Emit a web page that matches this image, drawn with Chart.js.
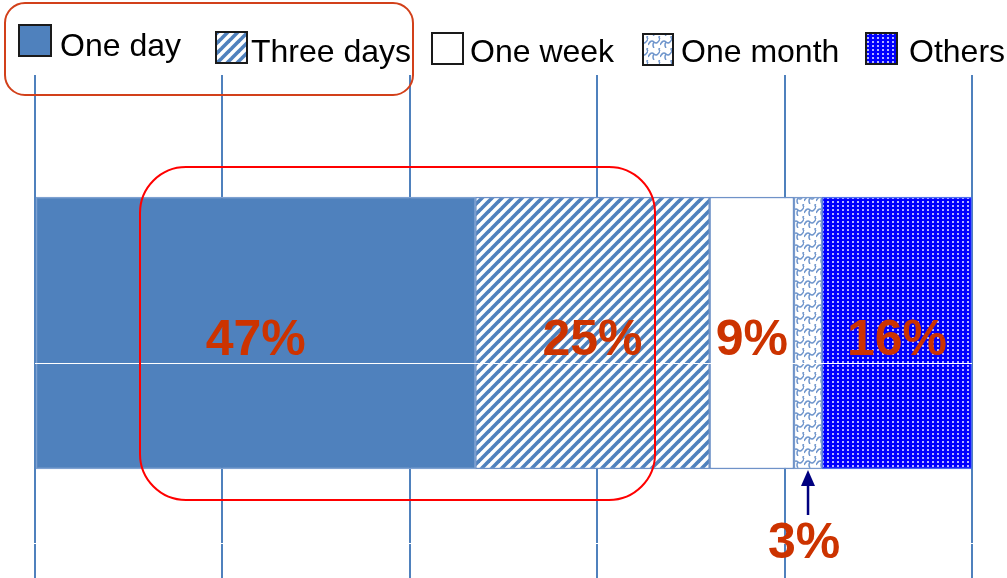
<!DOCTYPE html>
<html>
<head>
<meta charset="utf-8">
<script src="https://cdn.jsdelivr.net/npm/chart.js@4.4.1/dist/chart.umd.min.js"></script>
<style>
    html, body { margin: 0; padding: 0; background: #fff; overflow: hidden; }
    #wrap { position: relative; width: 1007px; height: 591px; }
</style>
</head>
<body>
<div id="wrap"><canvas id="durationChart"></canvas></div>
<script>
// ---- Data ----
const categories = ['Duration'];
const seriesNames = ['One day', 'Three days', 'One week', 'One month', 'Others'];
const seriesValues = [47, 25, 9, 3, 16];
const axisMin = 0;
const axisMax = 100;
const gridStep = 20;

// ---- Fill patterns ----
function makeTile(w, h, draw) {
    const c = document.createElement('canvas');
    c.width = w; c.height = h;
    const g = c.getContext('2d');
    draw(g, w, h);
    return g.createPattern(c, 'repeat');
}

const stripes = makeTile(10, 10, (g, w, h) => {
    g.fillStyle = '#fff';
    g.fillRect(0, 0, w, h);
    g.strokeStyle = '#4f81bd';
    g.lineWidth = 3.6;
    for (let k = -1; k <= 1; k++) {
        g.beginPath();
        g.moveTo(k * w - 2, h + 2);
        g.lineTo(k * w + w + 2, -2);
        g.stroke();
    }
});

const waves = makeTile(12, 12, (g, w, h) => {
    g.fillStyle = '#fff';
    g.fillRect(0, 0, w, h);
    g.strokeStyle = '#7096cc';
    g.lineWidth = 1.5;
    g.beginPath();
    g.moveTo(0, 9);
    g.quadraticCurveTo(3, 3, 6, 6);
    g.quadraticCurveTo(9, 9, 12, 3);
    g.stroke();
    g.beginPath();
    g.moveTo(6, 6);
    g.quadraticCurveTo(4, 9, 6, 12);
    g.stroke();
    g.beginPath();
    g.moveTo(12, 3);
    g.quadraticCurveTo(10, 1, 12, 0);
    g.moveTo(0, 3);
    g.quadraticCurveTo(-2, 1, 0, 0);
    g.stroke();
});

const dots = makeTile(5, 4, (g, w, h) => {
    g.fillStyle = '#0000ff';
    g.fillRect(0, 0, w, h);
    g.fillStyle = '#b4b4ff';
    g.fillRect(2, 1, 2, 2);
});

const fills = ['#4f81bd', stripes, '#ffffff', waves, dots];
const edges = ['#7ea1d1', '#6b8fc6', '#6f92c8', '#7a9bcd', '#4d6cf0'];

// ---- Helpers ----
function roundRectPath(ctx, x, y, w, h, r) {
    ctx.beginPath();
    ctx.moveTo(x + r, y);
    ctx.arcTo(x + w, y, x + w, y + h, r);
    ctx.arcTo(x + w, y + h, x, y + h, r);
    ctx.arcTo(x, y + h, x, y, r);
    ctx.arcTo(x, y, x + w, y, r);
    ctx.closePath();
}

// legend slots along the top row
const legendX = [19, 216, 432, 643, 866];
const legendBoxTop = [25, 32, 33, 34, 33];
const legendBaseline = [56, 62, 62, 62, 62];
const legendBox = [32, 31, 31, 30, 31];
const legendTextGap = [9, 4, 7, 8, 12];

const legendPlugin = {
    id: 'topLegend',
    afterDraw(chart) {
        const ctx = chart.ctx;
        ctx.save();
        ctx.font = '32px "Liberation Sans", Arial, sans-serif';
        ctx.textBaseline = 'alphabetic';
        chart.data.datasets.forEach((ds, i) => {
            const bx = legendX[i], by = legendBoxTop[i], s = legendBox[i];
            ctx.fillStyle = ds.backgroundColor;
            ctx.fillRect(bx, by, s, 31);
            ctx.lineWidth = 2;
            ctx.strokeStyle = '#1a1a1a';
            ctx.strokeRect(bx, by, s, 31);
            ctx.fillStyle = '#000';
            ctx.fillText(ds.label, bx + s + legendTextGap[i], legendBaseline[i]);
        });
        ctx.restore();
    }
};

const labelPlugin = {
    id: 'segmentLabels',
    afterDatasetsDraw(chart) {
        const ctx = chart.ctx;
        const area = chart.chartArea;
        ctx.save();

        // thin white rules across the bar and the lower grid
        const first = chart.getDatasetMeta(0).data[0];
        ctx.strokeStyle = '#fff';
        ctx.lineWidth = 1;
        ctx.beginPath();
        ctx.moveTo(area.left, Math.round(first.y + 30) + 0.5);
        ctx.lineTo(area.right, Math.round(first.y + 30) + 0.5);
        ctx.moveTo(area.left - 2, Math.round(first.y + 210) + 0.5);
        ctx.lineTo(area.right + 2, Math.round(first.y + 210) + 0.5);
        ctx.stroke();

        ctx.font = 'bold 50px "Liberation Sans", Arial, sans-serif';
        ctx.textAlign = 'center';
        ctx.textBaseline = 'alphabetic';
        chart.data.datasets.forEach((ds, i) => {
            const bar = chart.getDatasetMeta(i).data[0];
            const p = bar.getProps(['x', 'y', 'base', 'height'], true);
            const cx = (p.x + p.base) / 2;
            const text = ds.data[0] + '%';
            if (ds.data[0] < 5) {
                // small slice: label sits under the bar with an arrow
                const bottom = p.y + p.height / 2;
                ctx.strokeStyle = '#000080';
                ctx.fillStyle = '#000080';
                ctx.lineWidth = 2.5;
                ctx.beginPath();
                ctx.moveTo(cx, bottom + 14);
                ctx.lineTo(cx, bottom + 46);
                ctx.stroke();
                ctx.beginPath();
                ctx.moveTo(cx, bottom + 1);
                ctx.lineTo(cx - 7, bottom + 17);
                ctx.lineTo(cx + 7, bottom + 17);
                ctx.closePath();
                ctx.fill();
                ctx.fillStyle = '#cc3300';
                ctx.fillText(text, cx - 4, bottom + 89);
            } else {
                ctx.fillStyle = '#cc3300';
                ctx.fillText(text, cx, p.y + 22);
            }
        });
        ctx.restore();
    },
    afterDraw(chart) {
        const ctx = chart.ctx;
        ctx.save();
        ctx.lineWidth = 2;
        // callout round the legend's first two entries
        ctx.strokeStyle = '#d2401a';
        roundRectPath(ctx, 5, 3, 408, 92, 20);
        ctx.stroke();
        // callout round the two largest slices
        ctx.strokeStyle = '#ff0000';
        roundRectPath(ctx, 140, 167, 515, 333, 46);
        ctx.stroke();
        ctx.restore();
    }
};

new Chart(document.getElementById('durationChart'), {
    type: 'bar',
    data: {
        labels: categories,
        datasets: seriesNames.map((name, i) => ({
            label: name,
            data: [seriesValues[i]],
            backgroundColor: fills[i],
            borderColor: edges[i],
            borderWidth: 1.5,
            borderSkipped: false,
            barThickness: 272
        }))
    },
    options: {
        indexAxis: 'y',
        responsive: true,
        maintainAspectRatio: false,
        animation: false,
        layout: { padding: { left: 35, right: 35, top: 75, bottom: 0 } },
        plugins: {
            legend: { display: false },
            tooltip: { enabled: false }
        },
        scales: {
            x: {
                stacked: true,
                min: axisMin,
                max: axisMax,
                ticks: { display: false, stepSize: gridStep },
                grid: { color: '#4f81bd', lineWidth: 2, drawTicks: false },
                border: { display: false }
            },
            y: {
                stacked: true,
                ticks: { display: false },
                grid: { display: false, drawTicks: false },
                border: { display: false }
            }
        }
    },
    plugins: [legendPlugin, labelPlugin]
});
</script>
</body>
</html>
